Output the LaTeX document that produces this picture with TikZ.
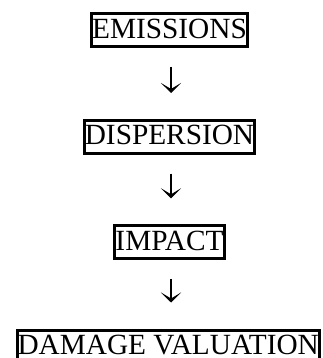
\documentclass[tikz,border=0pt]{standalone}
\usepackage{fontspec}
\setmainfont{Liberation Serif}
\usepackage{tikz}
\usetikzlibrary{arrows.meta}

\tikzset{
  stage/.style={draw, line width=3pt, inner xsep=0.5pt, inner ysep=1pt,
    text height=23.5pt, text depth=7pt, anchor=base,
    font=\fontsize{29.3}{31}\selectfont},
  down/.style={line width=1.6pt, shorten <=19pt, shorten >=26pt,
    -{Stealth[length=10pt,width=20pt,inset=6pt]}}
}

\begin{document}
\begin{tikzpicture}[x=1pt,y=-1pt]
\useasboundingbox (0,0) rectangle (323,358);
\node[stage] (em) at (169.5,38.3) {EMISSIONS};
\node[stage] (di) at (169.5,145) {DISPERSION};
\node[stage] (im) at (169.5,250.3) {IMPACT};
\node[stage, anchor=base west] (dv) at (15.5,354.5) {DAMAGE VALUATION};
\coordinate (dvtop) at (im.south |- dv.north);
\draw[down] ([xshift=1.5pt]em.south) -- ([xshift=1.5pt]di.north);
\draw[down] ([xshift=1.5pt]di.south) -- ([xshift=1.5pt]im.north);
\draw[down] ([xshift=1.5pt]im.south) -- ([xshift=1.5pt]dvtop);
\end{tikzpicture}
\end{document}
